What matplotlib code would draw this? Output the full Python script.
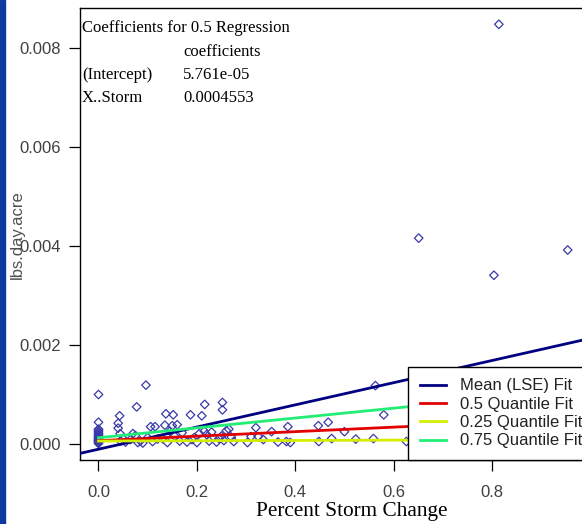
import matplotlib
matplotlib.use("Agg")
from matplotlib import pyplot as plt
from matplotlib.patches import Rectangle
import numpy as np

# storm change vs loading (lbs/day/acre)
storm = [0, 0, 0, 0, 0, 0, 0, 0, 0, 0, 0, 0, 0, 0, 0, 0, 0, 0,
	0.040, 0.043, 0.040, 0.044, 0.045, 0.050, 0.055,
	0.0776, 0.0965, 0.070, 0.075, 0.080, 0.085, 0.090, 0.065,
	0.106, 0.115, 0.100, 0.110, 0.120,
	0.137, 0.152, 0.135, 0.150, 0.160, 0.145, 0.155, 0.165, 0.140, 0.130, 0.170,
	0.187, 0.210, 0.216, 0.252, 0.252, 0.180, 0.190, 0.195, 0.200, 0.205, 0.215,
	0.220, 0.225, 0.230, 0.240, 0.245, 0.250, 0.255, 0.260, 0.265, 0.270, 0.275,
	0.303, 0.320, 0.310, 0.325, 0.335, 0.352, 0.365, 0.385, 0.382, 0.390,
	0.447, 0.467, 0.500, 0.474, 0.448, 0.523, 0.559, 0.563, 0.580, 0.626,
	0.651, 0.814, 0.804, 0.954]
load = [0, 0.2, 0.4, 0.5, 0.6, 0.8, 1.0, 1.1, 1.3, 1.5, 1.7, 1.9, 2.1, 2.4, 2.7, 2.9, 4.3, 9.9,
	4.1, 5.6, 3.1, 2.0, 0.5, 1.0, 0.3,
	7.4, 11.8, 2.0, 1.6, 0.2, 0.5, 0.1, 0.8,
	3.4, 3.4, 1.2, 0.4, 0.9,
	6.0, 5.8, 3.7, 3.6, 3.8, 2.5, 1.5, 0.5, 0.2, 1.0, 2.2,
	5.8, 5.6, 7.9, 8.3, 6.8, 0.3, 0.8, 1.2, 0.2, 2.0, 2.5,
	1.8, 0.5, 2.3, 0.3, 1.0, 1.5, 0.6, 2.6, 2.9, 1.3, 0.4,
	0.2, 3.2, 1.4, 1.4, 0.8, 2.4, 0.3, 3.4, 0.4, 0.2,
	3.6, 4.3, 2.4, 1.0, 0.4, 0.9, 1.0, 11.7, 5.8, 0.4,
	41.5, 84.7, 34.0, 39.1]
load = [v * 1e-4 for v in load]

# fitted lines: (intercept, slope)
fit_names = ["Mean (LSE) Fit", "0.5 Quantile Fit", "0.25 Quantile Fit", "0.75 Quantile Fit"]
fit_intercepts = [-0.000115, 5.761e-05, 0.00005, 0.000117]
fit_slopes = [0.00224, 0.0004553, 0.00003, 0.000995]
fit_colors = ["#000080", "#e00000", "#d4ee00", "#22ee77"]

x_ticks = [0.0, 0.2, 0.4, 0.6, 0.8]
x_ticklabels = ["0.0", "0.2", "0.4", "0.6", "0.8"]
y_ticks = [0.0, 0.002, 0.004, 0.006, 0.008]
y_ticklabels = ["0.000", "0.002", "0.004", "0.006", "0.008"]

fig = plt.figure(figsize=(5.82, 5.24), dpi=100)
fig.patches.append(Rectangle((0, 0), 5 / 582, 1, transform=fig.transFigure,
	color="#0b3ba0", zorder=0))

ax = fig.add_axes([80 / 582, 1 - 460 / 524, 530 / 582, 452 / 524])
ax.scatter(storm, load, marker="D", s=19, facecolors="none",
	edgecolors="#3a3aaa", linewidths=0.9, zorder=2)

xs = np.array([-0.04, 1.04])
ax.plot(xs, fit_intercepts[0] + fit_slopes[0] * xs, color=fit_colors[0], lw=2, label=fit_names[0], zorder=3)
xq = np.array([0, 1.0])
for i in range(1, 4):
	ax.plot(xq, fit_intercepts[i] + fit_slopes[i] * xq, color=fit_colors[i], lw=2, label=fit_names[i], zorder=3)

ax.set_xlim(-0.0376, 1.04)
ax.set_ylim(-0.000333, 0.0088)
ax.set_xticks(x_ticks)
ax.set_xticklabels(x_ticklabels)
ax.set_yticks(y_ticks)
ax.set_yticklabels(y_ticklabels)
ax.tick_params(direction="out", length=8, width=0.9, labelsize=12,
	labelcolor="#404040", pad=6, labelfontfamily="Liberation Sans")
ax.tick_params(axis="x", pad=10)
for s in ax.spines.values():
	s.set_linewidth(1.0)

ax.set_xlabel("Percent Storm Change", family="Liberation Serif", fontsize=15.3)
ax.xaxis.set_label_coords((352 - 80) / 530, -0.094)
fig.text(17 / 582, 1 - 235 / 524, "lbs.day.acre", rotation=90, ha="center", va="center",
	family="Liberation Sans", fontsize=12, color="#505050")

# coefficient table in the corner
tf = dict(family="Liberation Serif", fontsize=12, transform=fig.transFigure, va="center")
fig.text(82 / 582, 1 - 28 / 524, "Coefficients for 0.5 Regression", **tf)
fig.text(183 / 582, 1 - 52 / 524, "coefficients", **tf)
fig.text(82 / 582, 1 - 75 / 524, "(Intercept)", **tf)
fig.text(183 / 582, 1 - 75 / 524, "5.761e-05", **tf)
fig.text(82 / 582, 1 - 98 / 524, "X..Storm", **tf)
fig.text(183 / 582, 1 - 98 / 524, "0.0004553", **tf)

leg = ax.legend(loc="lower left", bbox_to_anchor=((408 - 80) / 530, 0), borderaxespad=0,
	prop={"family": "Liberation Sans", "size": 12}, handlelength=1.6, handletextpad=0.8,
	labelspacing=0.2, borderpad=0.7, fancybox=False, framealpha=1, edgecolor="black")
leg.get_frame().set_linewidth(1.0)
for t in leg.get_texts():
	t.set_color("#222222")

fig.savefig("out.png", dpi=100)
